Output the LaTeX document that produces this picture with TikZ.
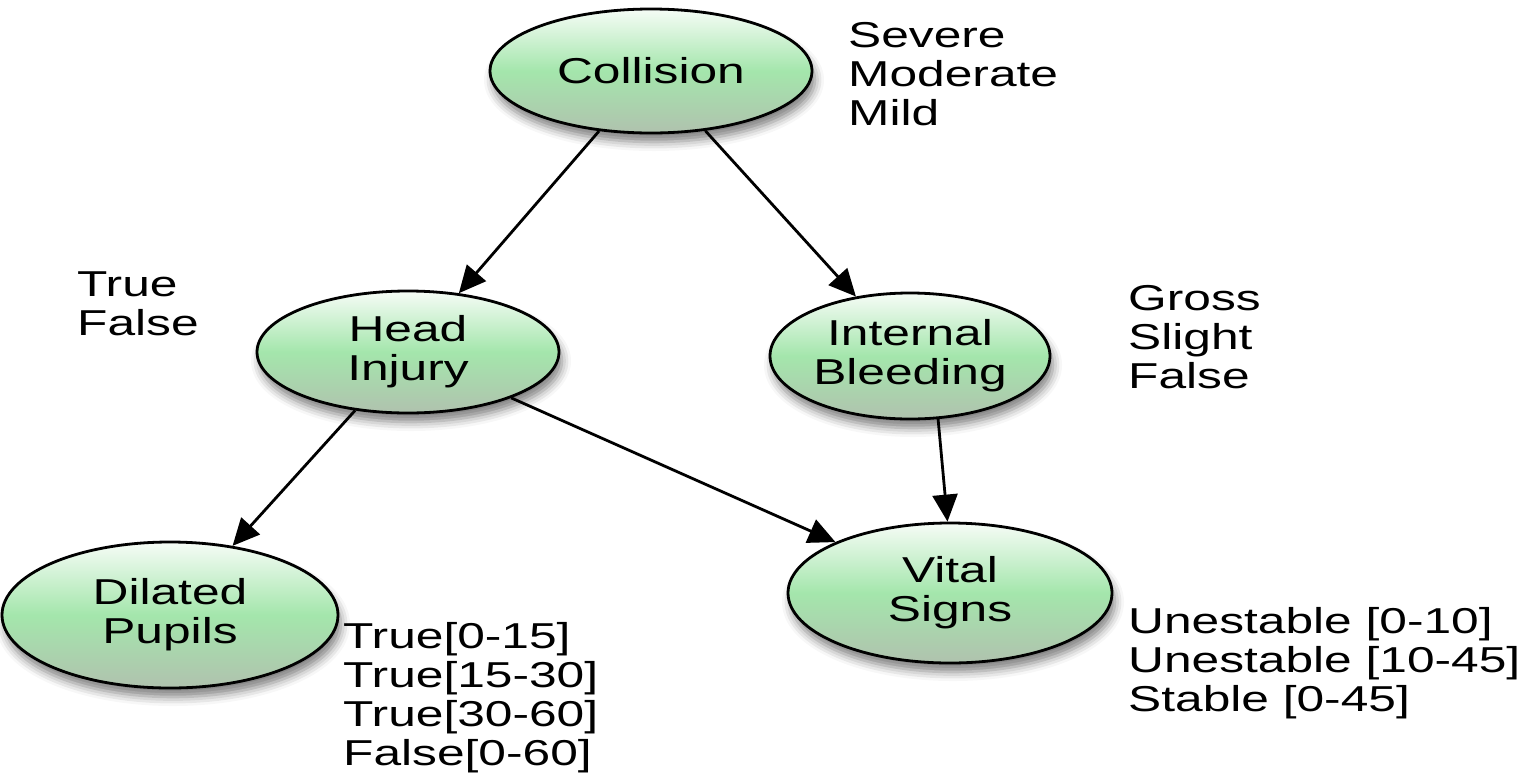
\documentclass[tikz,border=0pt]{standalone}
\usepackage{fontspec}
\setmainfont{Liberation Sans}[FakeStretch=1.38]
\usetikzlibrary{shapes.geometric,arrows.meta,shadows.blur}

\definecolor{nodetop}{HTML}{F6FCF6}
\definecolor{nodemid}{HTML}{A4E6AC}
\definecolor{nodebot}{HTML}{B0C2AE}

\begin{document}
\begin{tikzpicture}[x=1pt,y=-1pt,
  font=\fontsize{36}{39}\selectfont,
  bnode/.style={ellipse, draw=black, line width=2.8pt, inner sep=0pt,
    align=center, top color=nodetop, bottom color=nodebot, middle color=nodemid,
    blur shadow={shadow xshift=3pt, shadow yshift=-9pt, shadow opacity=50,
      shadow blur radius=9pt}},
  states/.style={anchor=north west, inner sep=0pt, align=left},
  link/.style={-{Triangle[length=27pt,width=25pt]}, line width=2.8pt}]

\useasboundingbox (0,0) rectangle (1524,772);

% network variables
\node[bnode, minimum width=322pt, minimum height=124pt] (coll)  at (651,71)  {Collision};
\node[bnode, minimum width=302pt, minimum height=122pt] (head)  at (408,352) {Head\\Injury};
\node[bnode, minimum width=280pt, minimum height=126pt] (bleed) at (910,356) {Internal\\Bleeding};
\node[bnode, minimum width=336pt, minimum height=146pt] (pupil) at (170,615) {Dilated\\Pupils};
\node[bnode, minimum width=324pt, minimum height=140pt] (vital) at (950,593) {Vital\\Signs};

% dependencies
\draw[link] (coll)  -- (head);
\draw[link] (coll)  -- (bleed);
\draw[link] (head)  -- (pupil);
\draw[link] (head)  -- (vital);
\draw[link] (bleed.294) -- (vital.92);

% state lists
\node[states] (collstates)  at (848,22)   {Severe\\Moderate\\Mild};
\node[states] (headstates)  at (77,272)   {True\\False};
\node[states] (bleedstates) at (1128,285) {Gross\\Slight\\False};
\node[states] (pupilstates) at (343,622)  {True[0-15]\\True[15-30]\\True[30-60]\\False[0-60]};
\node[states] (vitalstates) at (1128,607) {Unestable [0-10]\\Unestable [10-45]\\Stable [0-45]};
\end{tikzpicture}
\end{document}
